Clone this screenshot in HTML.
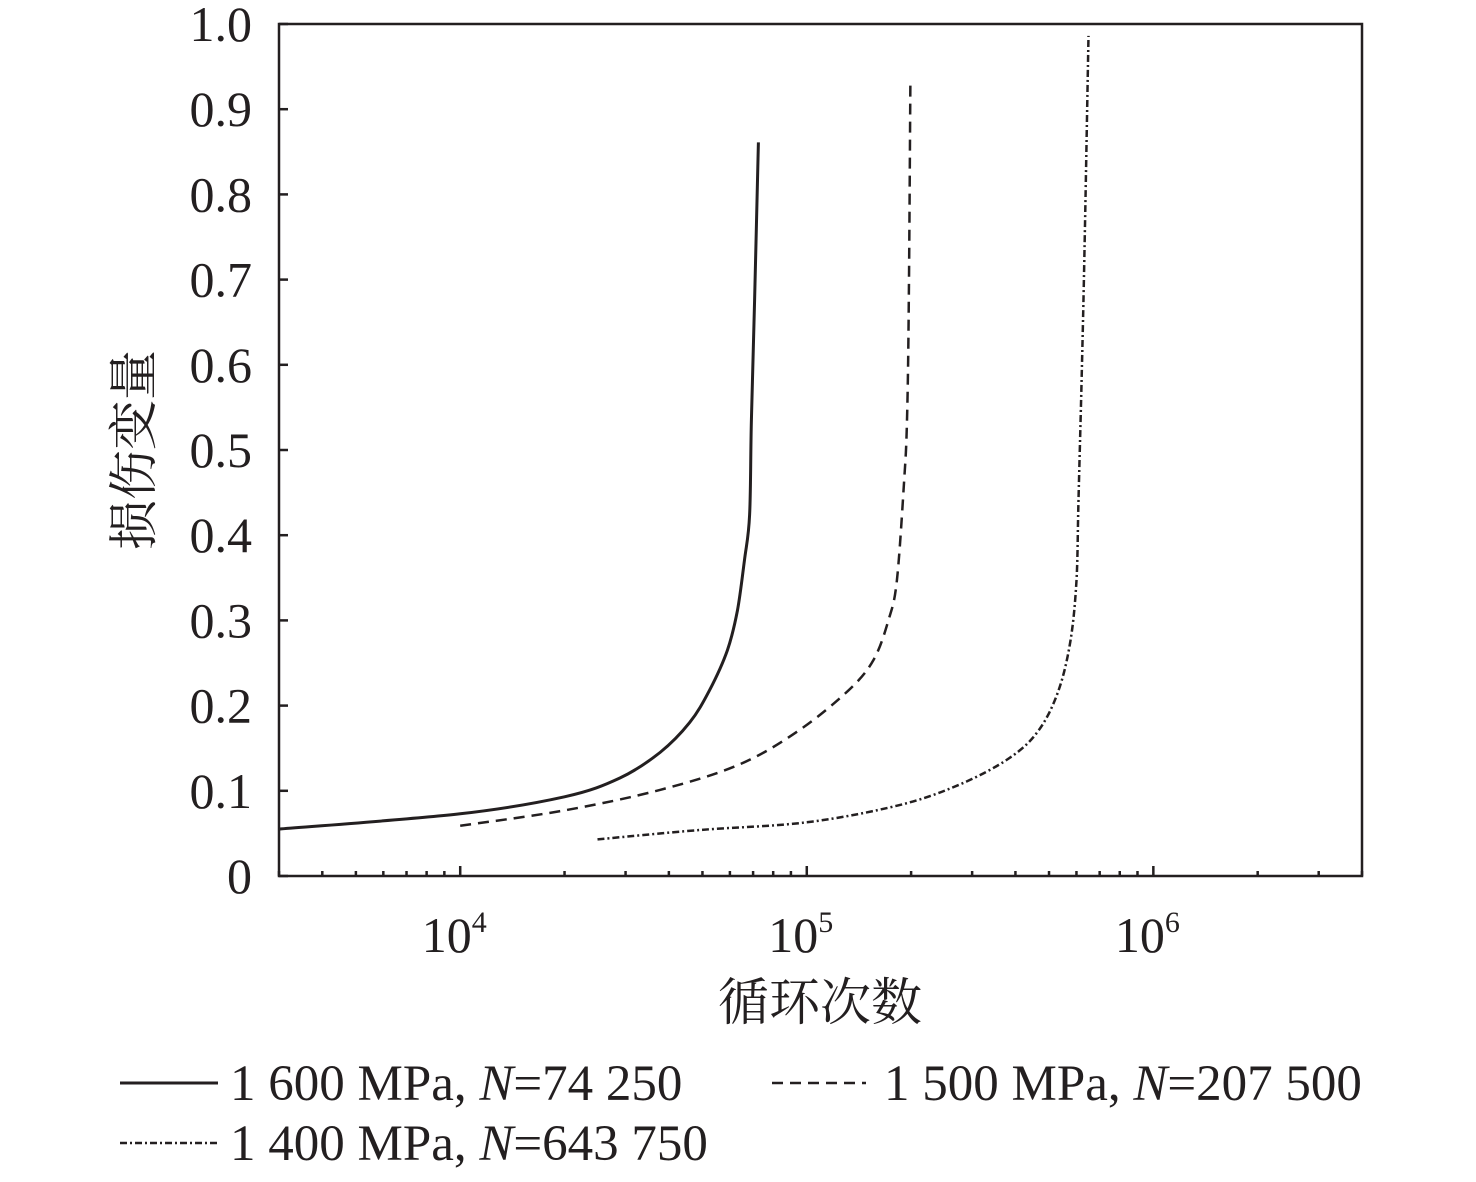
<!DOCTYPE html>
<html><head><meta charset="utf-8"><style>
body{margin:0;background:#fff;}
svg text{font-family:"Liberation Serif","Noto Serif CJK SC",serif;fill:#231f20;}
</style></head><body>
<svg id="chart" width="1476" height="1177" xmlns="http://www.w3.org/2000/svg">
<g id="axes"></g><g id="series"></g>
<text x="0" y="0" font-size="50" text-anchor="middle" transform="translate(151,450) rotate(-90)">损伤变量</text>
<text x="820" y="1020" font-size="51" text-anchor="middle">循环次数</text>
<g>
<line x1="120" y1="1083" x2="218" y2="1083" stroke="#231f20" stroke-width="3"/>
<text x="230" y="1100" font-size="51">1 600 MPa, <tspan font-style="italic">N</tspan>=74 250</text>
<line x1="772" y1="1083" x2="866" y2="1083" stroke="#231f20" stroke-width="2.5" stroke-dasharray="11,7"/>
<text x="884" y="1100" font-size="51">1 500 MPa, <tspan font-style="italic">N</tspan>=207 500</text>
<line x1="120" y1="1143" x2="218" y2="1143" stroke="#231f20" stroke-width="2.5" stroke-dasharray="7,3,2,3"/>
<text x="230" y="1160" font-size="51">1 400 MPa, <tspan font-style="italic">N</tspan>=643 750</text>
</g>
</svg>
<script>
const yTicks=[0,0.1,0.2,0.3,0.4,0.5,0.6,0.7,0.8,0.9,1.0];
const yTickLabels=["0","0.1","0.2","0.3","0.4","0.5","0.6","0.7","0.8","0.9","1.0"];
const xMajorExps=[4,5,6];
const cycles1600=[3000,10000,20000,28900,37700,45900,52400,59000,63100,66100,68400,69200,70700,72500];
const damage1600=[0.055,0.073,0.093,0.115,0.145,0.18,0.218,0.265,0.312,0.371,0.424,0.535,0.676,0.861];
const cycles1500=[10000,20000,37700,64000,95000,132000,156000,172000,182000,191000,194600,197000,199000];
const damage1500=[0.059,0.077,0.101,0.131,0.171,0.218,0.254,0.3,0.347,0.465,0.535,0.676,0.934];
const cycles1400=[24900,49100,100000,184000,275000,383000,467000,533000,577000,600000,608000,621000,633000,650000];
const damage1400=[0.043,0.054,0.063,0.083,0.107,0.138,0.171,0.218,0.277,0.347,0.441,0.582,0.735,0.986];

const L=279,R=1362,T=24,B=876,xmin=Math.log10(3000),xmax=Math.log10(4e6);
const xs=v=>L+(Math.log10(v)-xmin)/(xmax-xmin)*(R-L);
const ys=v=>B-v*(B-T);
const NS="http://www.w3.org/2000/svg";
function mk(tag,attrs,parent){const e=document.createElementNS(NS,tag);for(const k in attrs)e.setAttribute(k,attrs[k]);parent.appendChild(e);return e;}
const ax=document.getElementById('axes');
let fr=mk('rect',{x:L,y:T,width:R-L,height:B-T,fill:'none',stroke:'#231f20','stroke-width':2.5},ax);


yTicks.forEach((v,i)=>{
 const t=mk('line',{x1:L,x2:L+9,y1:ys(v),y2:ys(v),stroke:'#231f20','stroke-width':2.5},ax);
 
 
 const lb=mk('text',{x:252,y:ys(v)+17,'font-size':50,'text-anchor':'end'},ax);
 lb.textContent=yTickLabels[i];
 
 
});
for(let e=3;e<=6;e++){for(let m=1;m<=9;m++){const v=m*Math.pow(10,e);if(v<3000||v>4e6)continue;
 const major=m===1;
 const t=mk('line',{x1:xs(v),x2:xs(v),y1:B,y2:B-(major?10:5),stroke:'#231f20','stroke-width':2.5},ax);
 
 
}}
xMajorExps.forEach(e=>{
 const tx=mk('text',{x:xs(Math.pow(10,e))-6,y:952,'font-size':50,'text-anchor':'middle'},ax);
 tx.innerHTML='10<tspan dy="-20" font-size="30">'+e+'</tspan>';
 
 
});
const sg=document.getElementById('series');
function line(cx,dy,dash,w,name){
 const P=cx.map((c,i)=>[xs(c),ys(dy[i])]);
 let d='M'+P[0][0].toFixed(1)+','+P[0][1].toFixed(1);
 for(let i=0;i<P.length-1;i++){
  const p0=P[Math.max(i-1,0)],p1=P[i],p2=P[i+1],p3=P[Math.min(i+2,P.length-1)];
  const c1=[p1[0]+(p2[0]-p0[0])/6,p1[1]+(p2[1]-p0[1])/6];
  const c2=[p2[0]-(p3[0]-p1[0])/6,p2[1]-(p3[1]-p1[1])/6];
  d+=' C'+c1.map(v=>v.toFixed(1)).join(',')+' '+c2.map(v=>v.toFixed(1)).join(',')+' '+p2[0].toFixed(1)+','+p2[1].toFixed(1);
 }
 const p=mk('path',{d:d,fill:'none',stroke:'#231f20','stroke-width':w,'stroke-dasharray':dash},sg);
 
 
}
line(cycles1600,damage1600,'none',3,'series-1600mpa');
line(cycles1500,damage1500,'11,7',2.5,'series-1500mpa');
line(cycles1400,damage1400,'7,3,2,3',2.5,'series-1400mpa');
</script>
</body></html>
